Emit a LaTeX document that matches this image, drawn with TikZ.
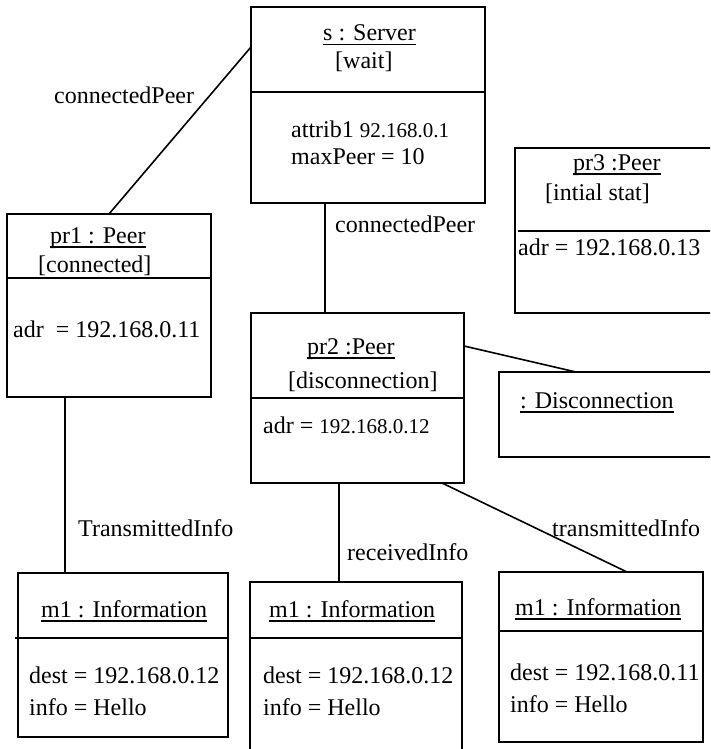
\documentclass[tikz,border=0pt]{standalone}
\usepackage{fontspec}
\setmainfont{Liberation Serif}
\tikzset{
  obj/.style={draw, line width=1.6pt, anchor=north west, inner sep=0pt, outer sep=0pt},
  txt/.style={anchor=base west, inner sep=0pt},
  link/.style={line width=1.6pt},
}
\newcommand{\ipnum}[1]{{\fontsize{21}{29}\selectfont #1}}
\newcommand{\objname}[1]{\setbox0=\hbox{#1}\rlap{\rule[-4.5pt]{\wd0}{1.4pt}}\box0}

\begin{document}
\begin{tikzpicture}[x=1pt,y=-1pt,font=\fontsize{24}{29}\selectfont]
\useasboundingbox (0,0) rectangle (710,749);
\clip (0,0) rectangle (710,749);

\node[obj, minimum width=234pt, minimum height=196pt] (srv) at (251,7) {};
\node[obj, minimum width=205pt, minimum height=165pt] (pr3) at (515,148) {};
\node[obj, minimum width=204pt, minimum height=183pt] (pr1) at (7,214) {};
\node[obj, minimum width=213pt, minimum height=170pt] (pr2) at (251,313) {};
\node[obj, minimum width=221pt, minimum height=85pt] (dis) at (499,372) {};
\node[obj, minimum width=210pt, minimum height=164pt] (inf1) at (18,573) {};
\node[obj, minimum width=212pt, minimum height=180pt] (inf2) at (250,582) {};
\node[obj, minimum width=204pt, minimum height=170pt] (inf3) at (499,572) {};

\draw[link] ([yshift=-85pt]srv.north west) -- ([yshift=-85pt]srv.north east);
\draw[link] ([xshift=3pt,yshift=-83pt]pr3.north west) -- ([yshift=-83pt]pr3.north east);
\draw[link] ([yshift=-64pt]pr1.north west) -- ([yshift=-64pt]pr1.north east);
\draw[link] ([yshift=-85pt]pr2.north west) -- ([yshift=-85pt]pr2.north east);
\draw[link] ([xshift=-3pt,yshift=-65pt]inf1.north west) -- ([yshift=-65pt]inf1.north east);
\draw[link] ([yshift=-56pt]inf2.north west) -- ([yshift=-56pt]inf2.north east);
\draw[link] ([yshift=-59pt]inf3.north west) -- ([yshift=-59pt]inf3.north east);

\node[txt] (srvname) at (323,41) {\objname{s : Server}};
\node[txt] (srvstate) at (335,69) {[wait]};
\node[txt] (srvattr1) at (291,137) {attrib1 \ipnum{92.168.0.1}};
\node[txt] (srvattr2) at (291,164) {maxPeer = 10};

\node[txt] (pr3name) at (573,170) {\objname{pr3 :Peer}};
\node[txt] (pr3state) at (545,200) {[intial stat]};
\node[txt] (pr3adr) at (518,255) {adr = 192.168.0.13};

\node[txt] (pr1name) at (50,243) {\objname{pr1 : Peer}};
\node[txt] (pr1state) at (38,272) {[connected]};
\node[txt] (pr1adr) at (13,337) {adr~ = 192.168.0.11};

\node[txt] (pr2name) at (307,354) {\objname{pr2 :Peer}};
\node[txt] (pr2state) at (288,388) {[disconnection]};
\node[txt] (pr2adr) at (263,433) {adr = \ipnum{192.168.0.12}};

\node[txt] (disname) at (520,408) {\objname{: Disconnection}};

\node[txt] (inf1name) at (41,617) {\objname{m1 : Information}};
\node[txt] (inf1dest) at (29,683) {dest = 192.168.0.12};
\node[txt] (inf1info) at (29,715) {info = Hello};

\node[txt] (inf2name) at (269,617) {\objname{m1 : Information}};
\node[txt] (inf2dest) at (263,683) {dest = 192.168.0.12};
\node[txt] (inf2info) at (263,715) {info = Hello};

\node[txt] (inf3name) at (515,615) {\objname{m1 : Information}};
\node[txt] (inf3dest) at (510,680) {dest = 192.168.0.11};
\node[txt] (inf3info) at (510,712) {info = Hello};

\draw[link] ([yshift=-40pt]srv.north west) -- (pr1.north);
\draw[link] ([xshift=74pt]srv.south west) -- ([xshift=74pt]pr2.north west);
\draw[link] ([yshift=-33pt]pr2.north east) -- ([xshift=77pt]dis.north west);
\draw[link] ([xshift=58pt]pr1.south west) -- ([xshift=47pt]inf1.north west);
\draw[link] ([xshift=88pt]pr2.south west) -- ([xshift=89pt]inf2.north west);
\draw[link] ([xshift=191pt]pr2.south west) -- ([xshift=128pt]inf3.north west);

\node[txt] (lblsrvpr1) at (54,103) {connectedPeer};
\node[txt] (lblsrvpr2) at (335,232) {connectedPeer};
\node[txt] (lblpr1inf) at (78,536) {TransmittedInfo};
\node[txt] (lblpr2recv) at (347,560) {receivedInfo};
\node[txt] (lblpr2send) at (552,536) {transmittedInfo};

\end{tikzpicture}
\end{document}
